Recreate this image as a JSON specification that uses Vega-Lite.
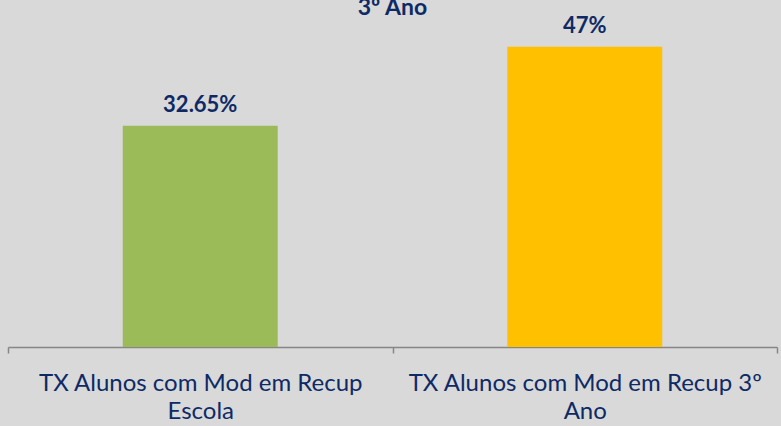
{
  "$schema": "https://vega.github.io/schema/vega-lite/v6.json",
  "width": 769,
  "height": 347,
  "autosize": {"type": "none"},
  "padding": {"left": 8, "top": 0, "right": 4, "bottom": 79},
  "background": "#d9d9d9",
  "title": {
    "text": "3º Ano",
    "font": "Lato",
    "fontSize": 23,
    "fontWeight": "bold",
    "color": "#0e2a66",
    "anchor": "middle",
    "baseline": "alphabetic",
    "offset": -38
  },
  "config": {"view": {"stroke": null}},
  "data": {
    "values": [
      {"categoria": "TX Alunos com Mod em Recup Escola", "taxa": 0.3265},
      {"categoria": "TX Alunos com Mod em Recup 3º Ano", "taxa": 0.47}
    ]
  },
  "encoding": {
    "x": {
      "field": "categoria",
      "type": "nominal",
      "sort": null,
      "scale": {"paddingInner": 0, "paddingOuter": 0},
      "axis": {
        "title": null,
        "labelAngle": 0,
        "labelFont": "Lato",
        "labelFontSize": 24,
        "labelColor": "#0e2a66",
        "labelBaseline": "top",
        "labelPadding": 18,
        "labelLineHeight": 28,
        "labelLimit": 400,
        "labelExpr": "datum.value == 'TX Alunos com Mod em Recup Escola' ? ['TX Alunos com Mod em Recup', 'Escola'] : datum.value == 'TX Alunos com Mod em Recup 3º Ano' ? ['TX Alunos com Mod em Recup 3º', 'Ano'] : ''",
        "tickBand": "extent",
        "domainColor": "#868686",
        "domainWidth": 1.5,
        "tickColor": "#868686",
        "tickWidth": 1.5,
        "tickSize": 6
      }
    },
    "y": {
      "field": "taxa",
      "type": "quantitative",
      "scale": {"domain": [-0.075, 0.555], "zero": false, "nice": false},
      "axis": null
    }
  },
  "layer": [
    {
      "mark": {"type": "bar", "width": {"band": 0.403}},
      "encoding": {
        "y2": {"datum": -0.075},
        "color": {
          "field": "categoria",
          "type": "nominal",
          "sort": null,
          "scale": {"range": ["#9bbb59", "#ffc000"]},
          "legend": null
        }
      }
    },
    {
      "mark": {
        "type": "text",
        "font": "Lato",
        "fontSize": 22,
        "fontWeight": "bold",
        "color": "#0e2a66",
        "baseline": "alphabetic",
        "dy": -14
      },
      "encoding": {
        "text": {"field": "taxa", "type": "quantitative", "format": ".2~%"}
      }
    }
  ]
}
